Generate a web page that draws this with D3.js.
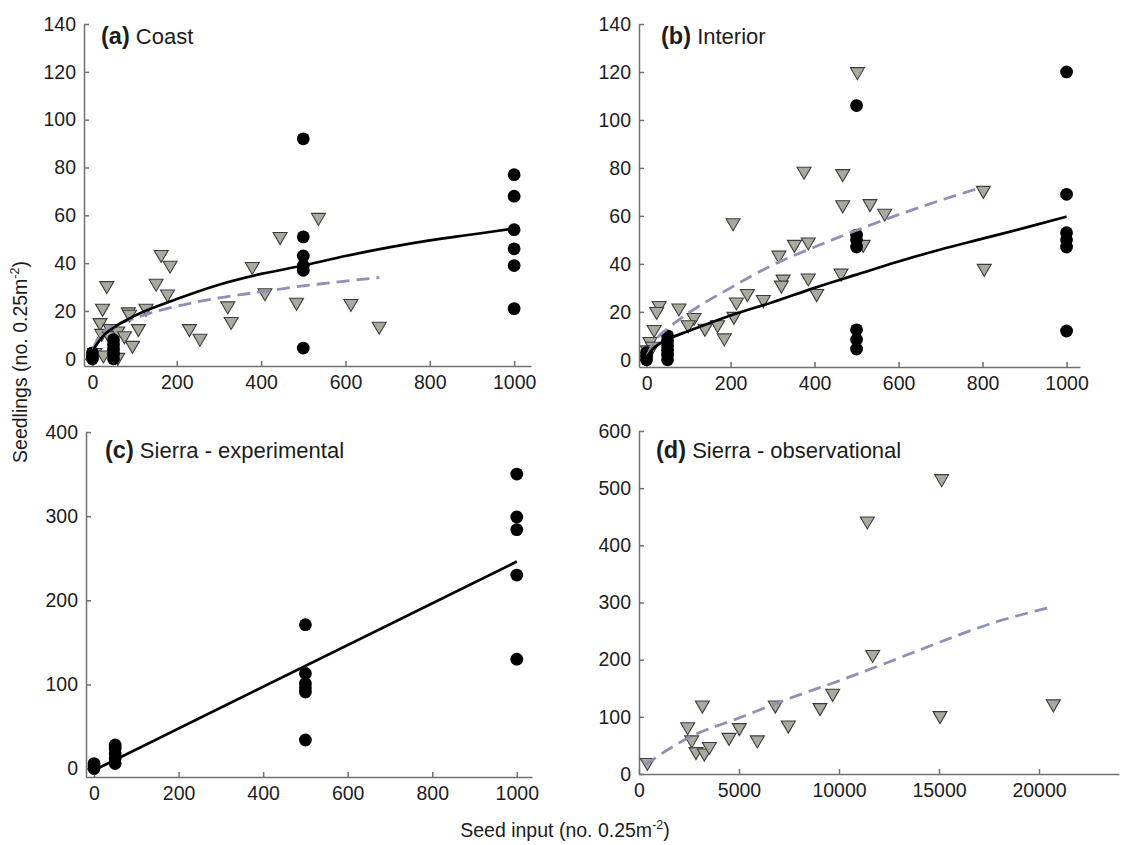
<!DOCTYPE html>
<html>
<head>
<meta charset="utf-8">
<script src="https://cdn.jsdelivr.net/npm/d3@7"></script>
<style>
  body { margin: 0; background: #fff; }
  text { font-family: "Liberation Sans", Arial, sans-serif; fill: #1c1c1c; }
</style>
</head>
<body>
<svg id="chart" width="1133" height="845"></svg>
<script>
// ---- data: [seed input, seedlings] ----

// (a) Coast
const coastSown = [[0,0],[0,1],[0,2.5],[50,0],[50,2],[50,4],[50,6],[50,8],
  [500,92],[500,51],[500,43],[500,39],[500,37],[500,4.5],
  [1000,77],[1000,68],[1000,54],[1000,46],[1000,39],[1000,21]];
const coastNatural = [[34,30],[24,20.5],[18,14.5],[22,10],[6,2],[26,1],[42,12],[40,9],[60,11],[60,0],
  [76,9],[85,19],[88,18],[95,5],[109,12],[127,20.5],[151,31],[163,43],[184,38.5],[178,26.5],
  [230,12],[255,8],[321,21.5],[329,15],[379,38],[409,27],[445,50.5],[484,23],[536,58.5],
  [613,22.5],[680,13]];
const coastSownFit = [[1,2],[5,4.5],[10,6],[25,9.5],[50,13],[100,18],[200,25],[300,31],[400,35.5],
  [500,39],[600,43],[700,46.5],[800,49.5],[900,52],[1000,54.5]];
const coastNaturalFit = [[2,4],[10,7.5],[25,11],[50,13.5],[100,17],[200,22],[300,25.5],[400,28],
  [500,30.5],[600,32.5],[680,34]];

// (b) Interior
const interiorSown = [[0,0],[0,1.5],[0,3],[50,0],[50,2],[50,4],[50,6],[50,8],[50,10],
  [500,106],[500,52],[500,50],[500,47],[500,12.5],[500,8.5],[500,4.5],
  [1000,120],[1000,69],[1000,53],[1000,50],[1000,47],[1000,12]];
const interiorNatural = [[502,119.5],[375,78],[467,77],[467,64],[532,64.5],[567,60.5],[802,70],[804,37.5],
  [206,56.5],[352,47.5],[385,48.5],[516,47.5],[315,43],[463,35.5],[325,33],[321,30.5],[385,33.5],
  [405,27],[240,27],[278,24.5],[214,23.5],[208,17.5],[169,14],[185,8.5],[139,12.5],[113,17],
  [99,14],[77,21],[30,22],[24,19.5],[18,12],[8,7],[14,5],[2,3.5]];
const interiorSownFit = [[1,1],[10,3.5],[25,6],[50,8.5],[100,12],[200,18.5],[300,24],[400,30],
  [500,35.5],[600,41],[700,46],[800,50.5],[900,55],[1000,59.7]];
const interiorNaturalFit = [[2,2],[10,5],[25,9],[50,13],[100,19.5],[200,30],[300,39.5],[400,47],
  [500,54],[600,60.5],[700,66.5],[800,72]];

// (c) Sierra - experimental
const sierraExpSown = [[0,0],[0,3],[0,6],[50,6],[50,12],[50,18],[50,24],[50,28],
  [500,171],[500,113],[500,101],[500,96],[500,91],[500,34],
  [1000,350],[1000,299],[1000,284],[1000,230],[1000,130]];
const sierraExpFit = [[0,-2],[1000,246]];

// (d) Sierra - observational
const sierraObsNatural = [[417,17.5],[2433,80],[2633,57],[2850,36.5],[3167,118],[3267,34],[3517,45.5],
  [4500,61.5],[5017,78.5],[5917,57],[6817,118],[7467,83],[9050,113.5],[9683,138.5],
  [11417,440],[11683,206.5],[15133,514],[15050,99.5],[20717,120]];
const sierraObsFit = [[300,16],[2500,64],[5000,98],[7500,132],[10000,163],[12500,196],
  [15000,230],[17500,262],[20717,293]];

// tick values
const ticks1000 = [0, 200, 400, 600, 800, 1000];
const ticks20000 = [0, 5000, 10000, 15000, 20000];
const ticks140 = [0, 20, 40, 60, 80, 100, 120, 140];
const ticks400 = [0, 100, 200, 300, 400];
const ticks600 = [0, 100, 200, 300, 400, 500, 600];

// ---- panel layout ----
const panels = [
  { tag: "(a)", name: "Coast", tx: 101, ty: 44,
    xd: [-20, 1040], xr: [84, 531], yd: [-3, 140], yr: [366, 24],
    xt: ticks1000, yt: ticks140,
    sown: coastSown, natural: coastNatural, sownFit: coastSownFit, naturalFit: coastNaturalFit },
  { tag: "(b)", name: "Interior", tx: 661, ty: 44,
    xd: [-18, 1032], xr: [639, 1080], yd: [-3, 140], yr: [367, 24],
    xt: ticks1000, yt: ticks140,
    sown: interiorSown, natural: interiorNatural, sownFit: interiorSownFit, naturalFit: interiorNaturalFit },
  { tag: "(c)", name: "Sierra - experimental", tx: 105, ty: 458,
    xd: [-19, 1036], xr: [86, 532], yd: [-10, 400], yr: [777, 432],
    xt: ticks1000, yt: ticks400,
    sown: sierraExpSown, natural: [], sownFit: sierraExpFit, naturalFit: null },
  { tag: "(d)", name: "Sierra - observational", tx: 656, ty: 458,
    xd: [0, 24000], xr: [639, 1119], yd: [0, 600], yr: [774, 431],
    xt: ticks20000, yt: ticks600,
    sown: [], natural: sierraObsNatural, sownFit: null, naturalFit: sierraObsFit }
];

const svg = d3.select("#chart");
const triangle = "M-7,-5.5L7,-5.5L0,6.5Z";

panels.forEach(p => {
  const x = d3.scaleLinear().domain(p.xd).range(p.xr);
  const y = d3.scaleLinear().domain(p.yd).range(p.yr);
  const g = svg.append("g");

  // axes with inward ticks
  const xAxis = g.append("g")
      .attr("transform", "translate(0," + p.yr[0] + ")")
      .call(d3.axisBottom(x).tickValues(p.xt).tickFormat(d3.format("d"))
        .tickSizeInner(-5).tickSizeOuter(0).tickPadding(9));
  const yAxis = g.append("g")
      .attr("transform", "translate(" + p.xr[0] + ",0)")
      .call(d3.axisLeft(y).tickValues(p.yt).tickFormat(d3.format("d"))
        .tickSizeInner(-5).tickSizeOuter(0).tickPadding(8));
  [xAxis, yAxis].forEach(a => {
    a.selectAll("path, line").attr("stroke", "#707070").attr("stroke-width", 1.5);
    a.selectAll("text").attr("font-size", 19.5).attr("fill", "#1c1c1c")
      .attr("font-family", "'Liberation Sans', Arial, sans-serif");
  });

  const line = d3.line().x(d => x(d[0])).y(d => y(d[1])).curve(d3.curveMonotoneX);

  // triangles (natural)
  g.selectAll("path.tri").data(p.natural).join("path")
      .attr("class", "tri")
      .attr("d", triangle)
      .attr("transform", d => "translate(" + x(d[0]) + "," + y(d[1]) + ")")
      .attr("fill", "#a9aa9d")
      .attr("stroke", "#3c3c3c")
      .attr("stroke-width", 1.1);

  // circles (sown)
  g.selectAll("circle").data(p.sown).join("circle")
      .attr("cx", d => x(d[0]))
      .attr("cy", d => y(d[1]))
      .attr("r", 6.4)
      .attr("fill", "#000");

  if (p.naturalFit) {
    g.append("path").datum(p.naturalFit)
        .attr("d", line)
        .attr("fill", "none")
        .attr("stroke", "#9090b6")
        .attr("stroke-width", 2.8)
        .attr("stroke-dasharray", "13,7");
  }
  if (p.sownFit) {
    g.append("path").datum(p.sownFit)
        .attr("d", line)
        .attr("fill", "none")
        .attr("stroke", "#000")
        .attr("stroke-width", 2.7);
  }

  // panel title
  const t = g.append("text").attr("x", p.tx).attr("y", p.ty);
  t.append("tspan").attr("font-weight", "bold").attr("font-size", 23.5).text(p.tag);
  t.append("tspan").attr("font-size", 22).text(" " + p.name);
});

// axis titles
const yTitle = svg.append("text")
    .attr("transform", "translate(27,362) rotate(-90)")
    .attr("text-anchor", "middle")
    .attr("font-size", 19.5);
yTitle.append("tspan").text("Seedlings (no. 0.25m");
yTitle.append("tspan").attr("font-size", 12.5).attr("dy", -8).text("-2");
yTitle.append("tspan").attr("dy", 8).text(")");

const xTitle = svg.append("text")
    .attr("x", 565).attr("y", 837)
    .attr("text-anchor", "middle")
    .attr("font-size", 19.5);
xTitle.append("tspan").text("Seed input (no. 0.25m");
xTitle.append("tspan").attr("font-size", 12.5).attr("dy", -8).text("-2");
xTitle.append("tspan").attr("dy", 8).text(")");
</script>
</body>
</html>
